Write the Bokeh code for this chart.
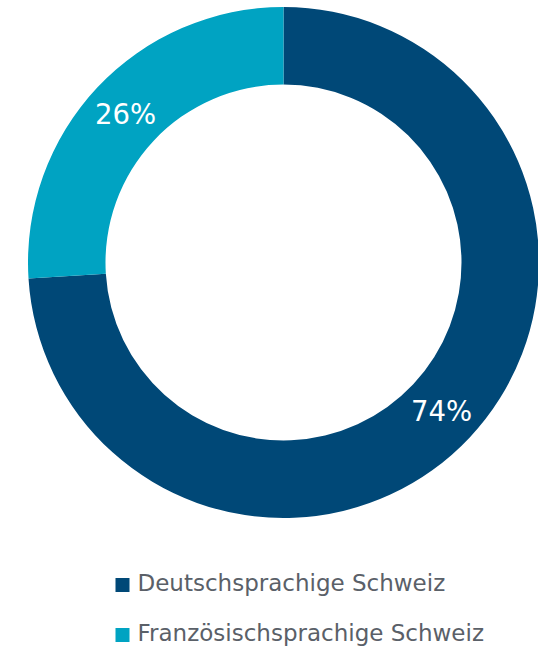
import math
from bokeh.plotting import figure
from bokeh.models import ColumnDataSource, Range1d
from bokeh.core.properties import value
from bokeh.embed import file_html
from bokeh.resources import INLINE

categories = ["Deutschsprachige Schweiz", "Französischsprachige Schweiz"]
shares = [74, 26]
labels = ["74%", "26%"]
colors = ["#004877", "#00A3C2"]

W, H = 538, 648
CX, CY = 283, 386
R_OUT, R_IN = 255.5, 178

p = figure(width=W, height=H, output_backend="svg", toolbar_location=None,
           x_range=Range1d(0, W), y_range=Range1d(0, H),
           min_border=0, outline_line_color=None)
p.axis.visible = False
p.grid.visible = False
p.background_fill_color = "white"
p.border_fill_color = "white"

total = sum(shares)
start_top = math.pi / 2
starts, ends, lx, ly = [], [], [], []
cum = 0.0
for v in shares:
    a_end = start_top - 2 * math.pi * cum / total
    a_start = start_top - 2 * math.pi * (cum + v) / total
    starts.append(a_start)
    ends.append(a_end)
    mid = (a_start + a_end) / 2
    rm = (R_OUT + R_IN) / 2
    lx.append(CX + rm * math.cos(mid))
    ly.append(CY + rm * math.sin(mid))
    cum += v

src = ColumnDataSource(dict(start=starts, end=ends, color=colors,
                            lx=lx, ly=ly, label=labels, cat=categories))
p.annular_wedge(x=CX, y=CY, inner_radius=R_IN, outer_radius=R_OUT,
                start_angle="start", end_angle="end", direction="anticlock",
                fill_color="color", line_color=None, source=src)
p.text(x="lx", y="ly", text="label", source=src, text_color="white",
       text_font=value("DejaVu Sans"), text_font_size="27.5px",
       text_align="center", text_baseline="middle")

# legend
leg_text_y = [65.5, 15.5]
leg_box_y = [63.5, 13.5]
leg = ColumnDataSource(dict(ty=leg_text_y, by=leg_box_y, cat=categories, color=colors))
p.rect(x=122, y="by", width=14, height=14, fill_color="color", line_color=None, source=leg)
p.text(x=137, y="ty", text="cat", source=leg, text_color="#5A6068",
       text_font=value("DejaVu Sans"), text_font_size="23px",
       text_align="left", text_baseline="middle")

open("out.html", "w").write(file_html(p, INLINE))
